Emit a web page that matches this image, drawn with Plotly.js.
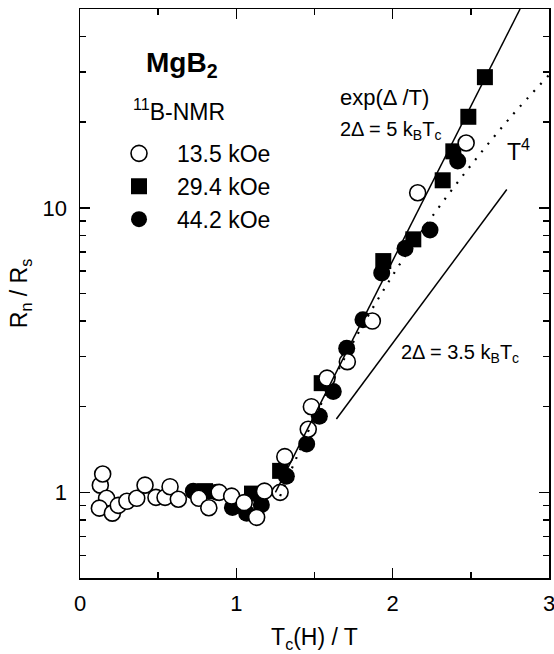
<!DOCTYPE html>
<html>
<head>
<meta charset="utf-8">
<script src="https://cdn.plot.ly/plotly-3.0.1.min.js"></script>
<style>
  html, body { margin: 0; padding: 0; background: #fff; }
  #chart { width: 554px; height: 654px; }
</style>
</head>
<body>
<div id="chart"></div>
<script>
// ---- data ----
// 13.5 kOe (open circles)
const open135X = [0.13, 0.145, 0.17, 0.124, 0.207, 0.245, 0.30, 0.363, 0.416, 0.486, 0.544, 0.576, 0.629, 0.76, 0.824, 0.89, 0.97, 1.05, 1.13, 1.18, 1.28, 1.31, 1.46, 1.48, 1.58, 1.71, 1.87, 2.16, 2.47];
const open135Y = [1.06, 1.16, 0.953, 0.88, 0.845, 0.90, 0.93, 0.953, 1.06, 0.96, 0.96, 1.047, 0.946, 0.953, 0.883, 1.0, 0.97, 0.92, 0.817, 1.01, 1.0, 1.335, 1.667, 2.0, 2.52, 2.88, 4.0, 11.3, 16.9];
// 29.4 kOe (filled squares)
const sq294X = [0.80, 1.10, 1.28, 1.546, 1.94, 2.132, 2.32, 2.388, 2.484, 2.59];
const sq294Y = [1.01, 0.99, 1.19, 2.42, 6.5, 7.75, 12.5, 15.8, 20.9, 28.8];
// 44.2 kOe (filled circles)
const fill442X = [0.725, 0.875, 0.975, 1.066, 1.16, 1.32, 1.45, 1.531, 1.62, 1.706, 1.81, 1.93, 2.079, 2.239, 2.416];
const fill442Y = [1.01, 1.0, 0.885, 0.845, 0.905, 1.14, 1.48, 1.85, 2.26, 3.21, 4.04, 5.9, 7.2, 8.36, 14.6];
// guide lines (end points / read points)
const expLineX = [1.25, 2.815];          // exp(Δ/T), 2Δ = 5 kBTc
const expLineY = [1.0, 50];
const t4LineX = [1.28, 1.5, 1.75, 2.0, 2.25, 2.5, 2.75, 3.0];   // T^4
const t4LineY = [0.97, 1.83, 3.39, 5.79, 9.28, 14.1, 20.7, 29.3];
const gap35X = [1.64, 2.73];             // 2Δ = 3.5 kBTc
const gap35Y = [1.81, 11.6];
// series labels and ticks
const seriesNames = ['13.5 kOe', '29.4 kOe', '44.2 kOe'];
const xTickVals = [0, 1, 2, 3];
const xMinorVals = [0.5, 1.5, 2.5];
const yTickVals = [1, 10];
const yTickText = ['1', '10'];
const yMinorVals = [0.5, 0.6, 0.7, 0.8, 0.9, 2, 3, 4, 5, 6, 7, 8, 9, 20, 30, 40, 50];

const FONT = '"Liberation Sans", Arial, Helvetica, sans-serif';

const traces = [
  { x: sq294X, y: sq294Y, type: 'scatter', mode: 'markers', name: seriesNames[1], legendrank: 2,
    marker: { symbol: 'square', size: 16, color: '#000', line: { width: 0 } } },
  { x: fill442X, y: fill442Y, type: 'scatter', mode: 'markers', name: seriesNames[2], legendrank: 3,
    marker: { symbol: 'circle', size: 17, color: '#000', line: { width: 0 } } },
  { x: open135X, y: open135Y, type: 'scatter', mode: 'markers', name: seriesNames[0], legendrank: 1,
    marker: { symbol: 'circle', size: 16, color: '#fff', line: { width: 1.6, color: '#000' } } },
  { x: expLineX, y: expLineY, type: 'scatter', mode: 'lines', showlegend: false,
    line: { color: '#000', width: 1.5 } },
  { x: t4LineX, y: t4LineY, type: 'scatter', mode: 'lines', showlegend: false,
    line: { shape: 'spline', color: '#000', width: 2.2, dash: '2px,8px' } },
  { x: gap35X, y: gap35Y, type: 'scatter', mode: 'lines', showlegend: false,
    line: { color: '#000', width: 1.5 } }
];

const layout = {
  width: 554, height: 654,
  margin: { l: 80, r: 5, t: 9, b: 76 },
  paper_bgcolor: '#fff', plot_bgcolor: '#fff',
  font: { family: FONT, color: '#000', size: 22 },
  showlegend: true,
  legend: { x: 0.0448, y: 0.784, xanchor: 'left', yanchor: 'top', bgcolor: 'rgba(0,0,0,0)',
            font: { family: FONT, size: 23, color: '#000' }, itemwidth: 66, traceorder: 'normal' },
  xaxis: {
    range: [0, 3], showgrid: false, zeroline: false,
    showline: true, linecolor: '#000', linewidth: 1.5, mirror: 'allticks',
    ticks: 'inside', ticklen: 10, tickwidth: 1.5, tickcolor: '#000',
    tickvals: xTickVals, ticklabelstandoff: 5, ticklabeloverflow: 'allow',
    tickfont: { family: FONT, size: 22, color: '#000' },
    minor: { tickvals: xMinorVals, ticks: 'inside', ticklen: 6, tickwidth: 1.5, tickcolor: '#000' },
    title: { text: 'T<sub>c</sub>(H) / T', font: { family: FONT, size: 23, color: '#000' }, standoff: 14 }
  },
  yaxis: {
    type: 'log', range: [Math.log10(0.5), Math.log10(50)], showgrid: false, zeroline: false,
    showline: true, linecolor: '#000', linewidth: 1.5, mirror: 'allticks',
    ticks: 'inside', ticklen: 10, tickwidth: 1.5, tickcolor: '#000',
    tickvals: yTickVals, ticktext: yTickText, ticklabelstandoff: 7, ticklabeloverflow: 'allow',
    tickfont: { family: FONT, size: 22, color: '#000' },
    minor: { tickvals: yMinorVals, ticks: 'inside', ticklen: 6, tickwidth: 1.5, tickcolor: '#000' },
    title: { text: 'R<sub>n</sub> / R<sub>s</sub>', font: { family: FONT, size: 23, color: '#000' }, standoff: 8 }
  },
  annotations: [
    { xref: 'paper', yref: 'paper', x: 0.1366, y: 0.903, xanchor: 'left', yanchor: 'middle', showarrow: false,
      text: '<b>MgB<sub>2</sub></b>', font: { family: FONT, size: 28, color: '#000' } },
    { xref: 'paper', yref: 'paper', x: 0.108, y: 0.8225, xanchor: 'left', yanchor: 'middle', showarrow: false,
      text: '<sup>11</sup>B-NMR', font: { family: FONT, size: 23, color: '#000' } },
    { xref: 'paper', yref: 'paper', x: 0.551, y: 0.8436, xanchor: 'left', yanchor: 'middle', showarrow: false,
      text: 'exp(Δ /T)', font: { family: FONT, size: 22, color: '#000' } },
    { xref: 'paper', yref: 'paper', x: 0.551, y: 0.787, xanchor: 'left', yanchor: 'middle', showarrow: false,
      text: '2Δ = 5 k<sub>B</sub>T<sub>c</sub>', font: { family: FONT, size: 20, color: '#000' } },
    { xref: 'paper', yref: 'paper', x: 0.906, y: 0.752, xanchor: 'left', yanchor: 'middle', showarrow: false,
      text: 'T<sup>4</sup>', font: { family: FONT, size: 23, color: '#000' } },
    { xref: 'paper', yref: 'paper', x: 0.68, y: 0.394, xanchor: 'left', yanchor: 'middle', showarrow: false,
      text: '2Δ = 3.5 k<sub>B</sub>T<sub>c</sub>', font: { family: FONT, size: 20, color: '#000' } }
  ]
};

Plotly.newPlot('chart', traces, layout, { displayModeBar: false, staticPlot: true });
</script>
</body>
</html>
